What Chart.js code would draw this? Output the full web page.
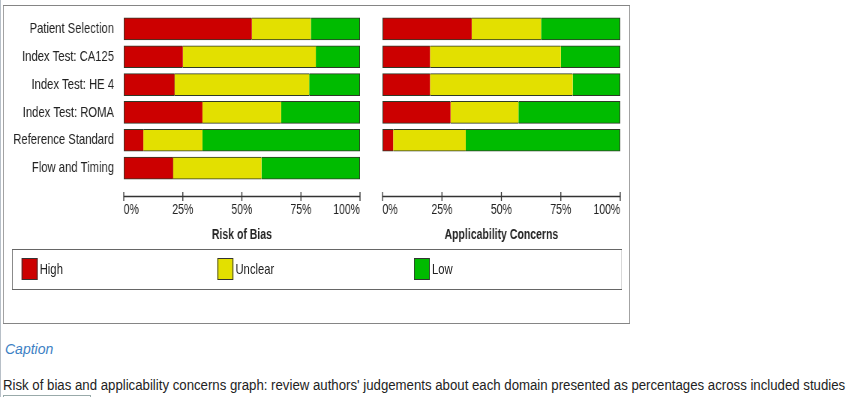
<!DOCTYPE html>
<html>
<head>
<meta charset="utf-8">
<script src="https://cdn.jsdelivr.net/npm/chart.js@4"></script>
<style>
  body { margin: 0; background: #fff; font-family: 'Liberation Sans', Arial, sans-serif; }
  #wrap { position: relative; width: 850px; height: 397px; overflow: hidden; }
  #pageEdge { position: absolute; left: 0; top: 0; width: 1px; height: 397px; background: #b8c0c8; }
  /* the chart figure is horizontally condensed, like the original image */
  #figure { position: absolute; left: 0; top: 0; width: 860px; height: 330px; transform: scaleX(0.75); transform-origin: 0 0; }
  #frame { position: absolute; left: 4px; top: 5px; width: 834px; height: 317px; border: 1px solid #858585; }
  canvas { position: absolute; top: 0; }
  #robCanvas { left: 0; }
  #appCanvas { left: 490px; }
  #legend { position: absolute; left: 16px; top: 249px; width: 812px; height: 39px; border: 1px solid #666; }
  .item { position: absolute; top: 8px; height: 22px; font-size: 15px; line-height: 22px; color: #222; }
  .sw { display: inline-block; width: 19px; height: 20px; border: 1px solid #333; vertical-align: top; margin-right: 3px; }
  #capTitle { position: absolute; left: 5px; top: 341px; font-style: italic; font-size: 14px; color: #3d7fc4; }
  #capText { position: absolute; left: 3px; top: 377px; font-size: 14px; color: #222; white-space: nowrap; transform-origin: 0 0; }
  #bottomBox { position: absolute; left: 3px; top: 395px; width: 86px; height: 6px; border: 1px solid #9aa; }
</style>
</head>
<body>
<div id="wrap">
  <div id="pageEdge"></div>
  <div id="figure">
    <div id="frame"></div>
    <canvas id="robCanvas" width="500" height="250"></canvas>
    <canvas id="appCanvas" width="357" height="250"></canvas>
    <div id="legend">
      <div class="item" style="left:12px"><span class="sw" style="background:#cc0000"></span>High</div>
      <div class="item" style="left:273px"><span class="sw" style="background:#e3e000"></span>Unclear</div>
      <div class="item" style="left:535px"><span class="sw" style="background:#00bb00"></span>Low</div>
    </div>
  </div>
  <div id="capTitle">Caption</div>
  <div id="capText">Risk of bias and applicability concerns graph: review authors' judgements about each domain presented as percentages across included studies</div>
  <div id="bottomBox"></div>
</div>
<script>
// domains (rows)
const domains = ['Patient Selection', 'Index Test: CA125', 'Index Test: HE 4', 'Index Test: ROMA', 'Reference Standard', 'Flow and Timing'];
const xTicks = [0, 25, 50, 75, 100];

// Risk of bias, percent of studies
const robHigh    = [54.2, 25.0, 21.4, 33.3,  8.3, 20.8];
const robUnclear = [25.0, 56.3, 57.1, 33.3, 25.0, 37.5];
const robLow     = [20.8, 18.7, 21.5, 33.4, 66.7, 41.7];

// Applicability concerns (no row for flow and timing)
const appHigh    = [37.5, 20.0, 20.0, 28.6,  4.5, null];
const appUnclear = [29.2, 55.0, 60.0, 28.6, 30.5, null];
const appLow     = [33.3, 25.0, 20.0, 42.8, 65.0, null];

const RED = '#cc0000', YELLOW = '#e3e000', GREEN = '#00bb00', EDGE = '#2e3a28';

Chart.defaults.font.family = "'Liberation Sans', Arial, sans-serif";
Chart.defaults.color = '#222';

// axis line with ticks crossing it, a bit below the bars
const axisLine = {
    id: 'axisLine',
    afterDraw(chart) {
        const ctx = chart.ctx;
        const xs = chart.scales.x;
        const y = chart.chartArea.bottom + 14;
        ctx.save();
        ctx.strokeStyle = '#333';
        ctx.lineWidth = 1.3;
        ctx.beginPath();
        ctx.moveTo(xs.getPixelForValue(0), y + 0.5);
        ctx.lineTo(xs.getPixelForValue(100), y + 0.5);
        xTicks.forEach(v => {
            const px = xs.getPixelForValue(v);
            ctx.moveTo(px, y - 4);
            ctx.lineTo(px, y + 5);
        });
        ctx.stroke();
        ctx.restore();
    }
};

function segments(high, unclear, low) {
    const common = { borderColor: EDGE, borderSkipped: false, barThickness: 22 };
    return [
        Object.assign({ label: 'High', data: high, backgroundColor: RED,
            borderWidth: { top: 1, bottom: 1, left: 1.3, right: 0 } }, common),
        Object.assign({ label: 'Unclear', data: unclear, backgroundColor: YELLOW,
            borderWidth: { top: 1, bottom: 1, left: 0, right: 0 } }, common),
        Object.assign({ label: 'Low', data: low, backgroundColor: GREEN,
            borderWidth: { top: 1, bottom: 1, left: 0, right: 1.3 } }, common)
    ];
}

function makeChart(id, title, high, unclear, low, labelWidth, pad) {
    return new Chart(document.getElementById(id), {
        type: 'bar',
        data: { labels: domains, datasets: segments(high, unclear, low) },
        options: {
            indexAxis: 'y',
            responsive: false,
            animation: false,
            layout: { padding: pad },
            plugins: { legend: { display: false }, tooltip: { enabled: false } },
            scales: {
                x: {
                    stacked: true, min: 0, max: 100,
                    afterBuildTicks: s => { s.ticks = xTicks.map(v => ({ value: v })); },
                    afterFit: s => { s.height = 68; },
                    border: { display: false },
                    grid: { display: false, drawTicks: false },
                    ticks: { padding: 20, align: 'inner', maxRotation: 0, font: { size: 14 }, callback: v => v + '%' },
                    title: { display: true, text: title, font: { size: 14, weight: 'bold' }, padding: { top: 0, bottom: 6 } }
                },
                y: {
                    stacked: true,
                    display: labelWidth > 0,
                    afterFit: s => { s.width = labelWidth; s.paddingTop = 0; s.paddingBottom = 0; },
                    border: { display: false },
                    grid: { display: false, drawTicks: false },
                    ticks: { padding: 13, font: { size: 15 } }
                }
            }
        },
        plugins: [axisLine]
    });
}

makeChart('robCanvas', 'Risk of Bias', robHigh, robUnclear, robLow, 165,
    { top: 15, right: 19, bottom: 0, left: 0 });
makeChart('appCanvas', 'Applicability Concerns', appHigh, appUnclear, appLow, 0,
    { top: 15, right: 13, bottom: 0, left: 14 });

// fit caption line to the width it has in the original
const cap = document.getElementById('capText');
cap.style.transform = 'scaleX(' + (842 / cap.offsetWidth) + ')';
</script>
</body>
</html>
